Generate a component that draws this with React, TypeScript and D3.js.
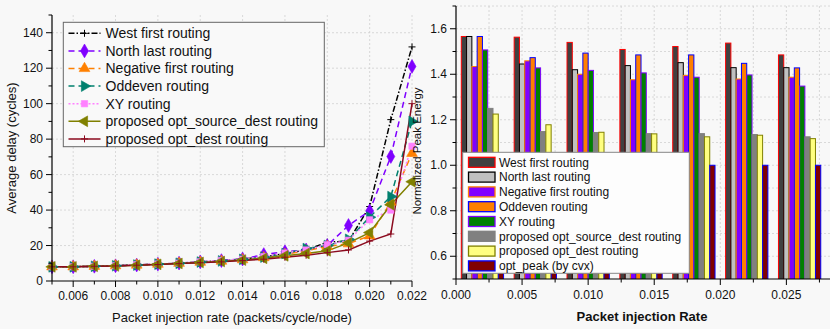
import React from "react";
import * as d3 from "d3";

// ---------- Left chart data ----------
const rates = [0.005, 0.006, 0.007, 0.008, 0.009, 0.010, 0.011, 0.012, 0.013, 0.014, 0.015, 0.016, 0.017, 0.018, 0.019, 0.020, 0.021, 0.022];
const westFirst = [8, 8, 8.3, 8.6, 9, 9.5, 10, 10.8, 11.4, 12.5, 13.5, 15.5, 17.5, 21.9, 22.5, 42, 91, 132];
const northLast = [8, 8, 8.3, 8.6, 9, 9.5, 10.1, 10.8, 11.5, 12.4, 14.9, 16.5, 17.5, 20, 31.3, 39.5, 70.2, 121];
const negativeFirst = [8, 8, 8.3, 8.6, 9, 9.5, 10, 10.6, 11.2, 12, 13.2, 15, 17, 19.5, 21, 25.5, 44.5, 72];
const oddeven = [8, 8, 8.3, 8.6, 9, 9.5, 10, 10.7, 11.3, 12.2, 13.5, 15.5, 18.3, 20, 23.5, 36, 47.6, 90];
const xyRouting = [8, 8, 8.3, 8.6, 9.2, 9.6, 10.1, 10.8, 11.6, 12.3, 13.8, 15.8, 17.5, 20.5, 23, 34.5, 40, 76];
const optSourceDest = [8, 8, 8.3, 8.5, 8.9, 9.4, 9.9, 10.5, 11, 11.8, 12.8, 14.2, 15.5, 17, 21.5, 27.3, 43, 56];
const optDest = [8, 8, 8.3, 8.5, 8.9, 9.3, 9.8, 10.3, 10.8, 11.5, 12.3, 13.4, 14.5, 16, 17.5, 22.5, 26.5, 100];
const leftXTicks = [0.006, 0.008, 0.010, 0.012, 0.014, 0.016, 0.018, 0.020, 0.022];
const leftYTicks = [0, 20, 40, 60, 80, 100, 120, 140];

// ---------- Right chart data ----------
const barGroups = [0.002, 0.006, 0.010, 0.014, 0.018, 0.022, 0.026];
const barWestFirst = [1.566, 1.563, 1.54, 1.509, 1.522, 1.537, 1.485];
const barNorthLast = [1.566, 1.445, 1.42, 1.438, 1.451, 1.429, 1.429];
const barNegativeFirst = [1.434, 1.459, 1.40, 1.376, 1.395, 1.379, 1.387];
const barOddeven = [1.566, 1.473, 1.493, 1.485, 1.485, 1.448, 1.428];
const barXY = [1.507, 1.428, 1.417, 1.406, 1.387, 1.397, 1.348];
const barOptSourceDest = [1.25, 1.148, 1.144, 1.139, 1.139, 1.135, 1.125];
const barOptDest = [1.225, 1.178, 1.145, 1.138, 1.125, 1.132, 1.117];
const barOptPeak = [1.0, 1.0, 1.0, 1.0, 1.0, 1.0, 1.0];
const rightXTicks = [0, 0.005, 0.010, 0.015, 0.020, 0.025];
const rightYTicks = [0.6, 0.8, 1.0, 1.2, 1.4, 1.6];

const FONT = "'Liberation Sans', Arial, Helvetica, sans-serif";

type LineSeries = { name: string; values: number[]; color: string; dash: string; marker: string };
const lineSeries: LineSeries[] = [
  { name: "West first routing", values: westFirst, color: "#000000", dash: "6,2,1.5,2", marker: "plus" },
  { name: "North last routing", values: northLast, color: "#7f00ff", dash: "6,4", marker: "diamond" },
  { name: "Negative first routing", values: negativeFirst, color: "#ff8000", dash: "6,4", marker: "tri-up" },
  { name: "Oddeven routing", values: oddeven, color: "#00806e", dash: "6,4", marker: "tri-right" },
  { name: "XY routing", values: xyRouting, color: "#ff80ff", dash: "2,2", marker: "square" },
  { name: "proposed opt_source_dest routing", values: optSourceDest, color: "#808000", dash: "", marker: "tri-left" },
  { name: "proposed opt_dest routing", values: optDest, color: "#8b0a1e", dash: "", marker: "plus" },
];

type BarSeries = { name: string; values: number[]; fill: string; stroke: string };
const barSeries: BarSeries[] = [
  { name: "West first routing", values: barWestFirst, fill: "#404040", stroke: "#ff0000" },
  { name: "North last routing", values: barNorthLast, fill: "#c0c0c0", stroke: "#000000" },
  { name: "Negative first routing", values: barNegativeFirst, fill: "#8000ff", stroke: "#ff8000" },
  { name: "Oddeven routing", values: barOddeven, fill: "#ff8000", stroke: "#0000ff" },
  { name: "XY routing", values: barXY, fill: "#008000", stroke: "#8000ff" },
  { name: "proposed opt_source_dest routing", values: barOptSourceDest, fill: "#808080", stroke: "#808080" },
  { name: "proposed opt_dest routing", values: barOptDest, fill: "#ffff80", stroke: "#808000" },
  { name: "opt_peak (by cvx)", values: barOptPeak, fill: "#800000", stroke: "#0000ff" },
];

function markerPath(kind: string): string {
  const sym = (t: d3.SymbolType, s: number) => d3.symbol().type(t).size(s)() as string;
  switch (kind) {
    case "diamond": return sym(d3.symbolDiamond, 55);
    case "square": return sym(d3.symbolSquare, 40);
    case "tri-up": case "tri-right": case "tri-left": return sym(d3.symbolTriangle, 50);
    default: return "M-3.5,0H3.5M0,-3.5V3.5";
  }
}
function markerRot(kind: string): number {
  if (kind === "tri-right") return 90;
  if (kind === "tri-left") return -90;
  return 0;
}

function Marker({ kind, color, x, y }: { kind: string; color: string; x: number; y: number }) {
  const isPlus = kind === "plus";
  return (
    <path
      d={markerPath(kind)}
      transform={`translate(${x},${y}) rotate(${markerRot(kind)})`}
      fill={isPlus ? "none" : color}
      stroke={color}
      strokeWidth={isPlus ? 1 : 0.6}
    />
  );
}

function LeftChart() {
  const x0 = 52, x1 = 412, yTop = 15, yBot = 281;
  const x = d3.scaleLinear().domain([0.005, 0.022]).range([x0, x1]);
  const y = d3.scaleLinear().domain([0, 150]).range([yBot, yTop]);
  const line = d3.line<number>().x((_, i) => x(rates[i])).y((v) => y(v));
  const minorX = d3.range(0.005, 0.02201, 0.001);
  const minorY = d3.range(0, 151, 10);
  const legX = 63.3, legY = 22.3, legW = 261, legH = 124.4;
  return (
    <g fontFamily={FONT}>
      {/* grid */}
      {leftXTicks.map((t) => (
        <line key={"gx" + t} x1={x(t)} x2={x(t)} y1={yTop} y2={yBot} stroke="#d0d0d0" strokeDasharray="2,2" strokeWidth={0.8} />
      ))}
      {leftYTicks.filter((t) => t > 0).map((t) => (
        <line key={"gy" + t} x1={x0} x2={x1} y1={y(t)} y2={y(t)} stroke="#d0d0d0" strokeDasharray="2,2" strokeWidth={0.8} />
      ))}
      {/* lines */}
      {lineSeries.map((s) => (
        <path key={s.name} d={line(s.values) as string} fill="none" stroke={s.color} strokeWidth={1.5} strokeDasharray={s.dash || undefined} />
      ))}
      {lineSeries.map((s) => (
        <g key={"m" + s.name}>
          {s.values.map((v, i) => (
            <Marker key={i} kind={s.marker} color={s.color} x={x(rates[i])} y={y(v)} />
          ))}
        </g>
      ))}
      {/* axes */}
      <line x1={x0} x2={x0} y1={yTop} y2={yBot} stroke="#000" strokeWidth={1.2} />
      <line x1={x0} x2={x1} y1={yBot} y2={yBot} stroke="#000" strokeWidth={1.2} />
      {minorY.map((t) => (
        <line key={"ty" + t} x1={x0} x2={x0 - (t % 20 === 0 ? 6 : 3.5)} y1={y(t)} y2={y(t)} stroke="#000" strokeWidth={1} />
      ))}
      {leftYTicks.map((t) => (
        <text key={"ly" + t} x={x0 - 9} y={y(t)} dy="0.35em" textAnchor="end" fontSize={12} fill="#111">{t}</text>
      ))}
      {minorX.map((t, i) => (
        <line key={"tx" + i} x1={x(t)} x2={x(t)} y1={yBot} y2={yBot + (i % 2 === 1 ? 6 : 3.5)} stroke="#000" strokeWidth={1} />
      ))}
      {leftXTicks.map((t) => (
        <text key={"lx" + t} x={x(t)} y={296} dy="0.35em" textAnchor="middle" fontSize={12} fill="#111">{d3.format(".3f")(t)}</text>
      ))}
      <text x={232} y={317} dy="0.35em" textAnchor="middle" fontSize={13} fill="#111">Packet injection rate (packets/cycle/node)</text>
      <text transform={`translate(11,${(yTop + yBot) / 2}) rotate(-90)`} dy="0.35em" textAnchor="middle" fontSize={13} fill="#111">Average delay (cycles)</text>
      {/* legend */}
      <rect x={legX} y={legY} width={legW} height={legH} fill="#f9f9f9" stroke="#666" strokeWidth={1} />
      {lineSeries.map((s, i) => {
        const ry = 33.3 + i * 17.6;
        return (
          <g key={"lg" + s.name}>
            <line x1={68.5} x2={100.5} y1={ry} y2={ry} stroke={s.color} strokeWidth={1.5} strokeDasharray={s.dash || undefined} />
            <Marker kind={s.marker} color={s.color} x={84.5} y={ry} />
            <text x={105.5} y={ry} dy="0.35em" fontSize={14} fill="#111">{s.name}</text>
          </g>
        );
      })}
    </g>
  );
}

function RightChart() {
  const x0 = 456, x1 = 830, yTop = 6, yBot = 279;
  const x = d3.scaleLinear().domain([0, 0.0283]).range([x0, x1]);
  const y = d3.scaleLinear().domain([0.5, 1.7]).range([yBot, yTop]);
  const bw = 0.0004;
  const nSer = barSeries.length;
  const gridX = d3.range(0.0025, 0.0283, 0.0025);
  const gridY = d3.range(0.6, 1.701, 0.1);
  const minorXT = d3.range(0, 0.0283, 0.0025);
  const minorYT = d3.range(0.5, 1.701, 0.1);
  const legX = 462.7, legY = 152.3, legW = 226.6, legH = 121;
  return (
    <g fontFamily={FONT}>
      <defs>
        <clipPath id="rclip"><rect x={x0} y={yTop} width={x1 - x0} height={yBot - yTop} /></clipPath>
      </defs>
      {gridX.map((t, i) => (
        <line key={"gx" + i} x1={x(t)} x2={x(t)} y1={yTop} y2={yBot} stroke="#d0d0d0" strokeDasharray="2,2" strokeWidth={0.8} />
      ))}
      {gridY.map((t, i) => (
        <line key={"gy" + i} x1={x0} x2={x1} y1={y(t)} y2={y(t)} stroke="#d0d0d0" strokeDasharray="2,2" strokeWidth={0.8} />
      ))}
      <g clipPath="url(#rclip)">
        {barSeries.map((s, si) => (
          <g key={s.name}>
            {s.values.map((v, gi) => {
              const left = barGroups[gi] - (nSer * bw) / 2 + si * bw;
              return (
                <rect key={gi} x={x(left)} y={y(v)} width={x(left + bw) - x(left)} height={yBot - y(v) + 2}
                  fill={s.fill} stroke={s.stroke} strokeWidth={1} />
              );
            })}
          </g>
        ))}
      </g>
      {/* legend */}
      <rect x={legX} y={legY} width={legW} height={legH} fill="#fdfdfd" stroke="#888" strokeWidth={1} />
      {barSeries.map((s, i) => {
        const ry = 162.3 + i * 14.8;
        return (
          <g key={"lg" + s.name}>
            <rect x={468.5} y={ry - 5} width={26.5} height={10} fill={s.fill} stroke={s.stroke} strokeWidth={1.3} />
            <text x={499} y={ry} dy="0.35em" fontSize={12} fill="#111">{s.name}</text>
          </g>
        );
      })}
      {/* axes */}
      <line x1={x0} x2={x0} y1={yTop} y2={yBot} stroke="#000" strokeWidth={1.2} />
      <line x1={x0} x2={x1} y1={yBot} y2={yBot} stroke="#000" strokeWidth={1.2} />
      {minorYT.map((t, i) => (
        <line key={"ty" + i} x1={x0} x2={x0 - (i % 2 === 1 ? 6 : 3.5)} y1={y(t)} y2={y(t)} stroke="#000" strokeWidth={1} />
      ))}
      {rightYTicks.map((t) => (
        <text key={"ly" + t} x={x0 - 9} y={y(t)} dy="0.35em" textAnchor="end" fontSize={12} fill="#111">{d3.format(".1f")(t)}</text>
      ))}
      {minorXT.map((t, i) => (
        <line key={"tx" + i} x1={x(t)} x2={x(t)} y1={yBot} y2={yBot + (i % 2 === 0 ? 6 : 3.5)} stroke="#000" strokeWidth={1} />
      ))}
      {rightXTicks.map((t) => (
        <text key={"lx" + t} x={x(t)} y={295} dy="0.35em" textAnchor="middle" fontSize={12} fill="#111">{d3.format(".3f")(t)}</text>
      ))}
      <text x={642} y={316} dy="0.35em" textAnchor="middle" fontSize={13} fontWeight="bold" fill="#111">Packet injection Rate</text>
      <text transform={`translate(417,151) rotate(-90)`} dy="0.35em" textAnchor="middle" fontSize={11.5} fill="#111">Normalized Peak Energy</text>
    </g>
  );
}

export default function App() {
  return (
    <svg width={830} height={329} style={{ position: "absolute", left: 0, top: 0, background: "#f8f8f8" }}>
      <rect x={0} y={0} width={830} height={329} fill="#f8f8f8" />
      <LeftChart />
      <RightChart />
    </svg>
  );
}
